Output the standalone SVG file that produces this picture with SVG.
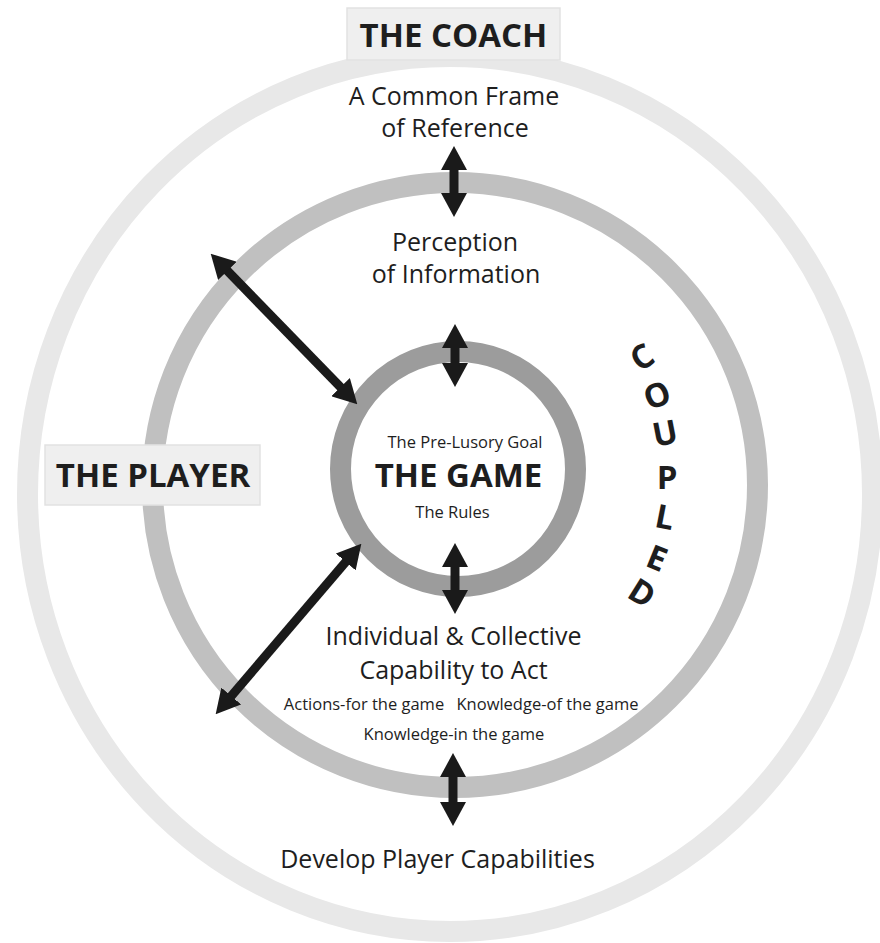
<svg xmlns="http://www.w3.org/2000/svg" width="880" height="943" viewBox="0 0 880 943">
  <style>
    .ring { fill: none; stroke-width: 21; }
    .coach-ring { stroke: #e8e8e8; }
    .player-ring { stroke: #c0c0c0; }
    .game-ring { stroke: #9c9c9c; }
    .box { fill: #efefef; stroke: #e2e2e2; stroke-width: 1.5; }
    .txt { font-family: "Open Sans", "Liberation Sans", sans-serif; fill: #1e1e1e; text-anchor: middle; }
    .title { font-size: 33px; font-weight: 700; }
    .big { font-size: 25px; }
    .small { font-size: 16.5px; }
    .coupled { font-size: 33px; font-weight: 700; }
    .link { stroke: #1a1a1a; stroke-width: 9; fill: none; marker-start: url(#head); marker-end: url(#head); }
  </style>
  <defs>
    <marker id="head" markerUnits="userSpaceOnUse" viewBox="0 0 24 26" markerWidth="24" markerHeight="26" refX="1" refY="13" orient="auto-start-reverse">
      <path d="M0,0 L24,13 L0,26 z" fill="#1a1a1a"/>
    </marker>
  </defs>

  <rect width="880" height="943" fill="#ffffff"/>

  <!-- concentric rings: coach, player, game -->
  <g id="ring-coach">
    <ellipse class="ring coach-ring" cx="450" cy="494" rx="422.5" ry="437.5"/>
  </g>
  <g id="ring-player">
    <circle class="ring player-ring" cx="455" cy="485" r="302.5"/>
  </g>
  <g id="ring-game">
    <circle class="ring game-ring" cx="458" cy="469" r="117.5"/>
  </g>

  <!-- double-headed connectors -->
  <g id="connectors">
    <line class="link" x1="454" y1="169" x2="454" y2="194"/>
    <line class="link" x1="455" y1="347" x2="455" y2="364"/>
    <line class="link" x1="455" y1="566" x2="455" y2="591"/>
    <line class="link" x1="453" y1="776" x2="453" y2="803"/>
    <line class="link" x1="226.75" y1="270.2" x2="341.25" y2="387.8"/>
    <line class="link" x1="346.4" y1="561.2" x2="230.6" y2="696.8"/>
  </g>

  <g id="coach">
    <rect class="box" x="347" y="8" width="213" height="52"/>
    <text class="txt title" x="453.5" y="47">THE COACH</text>
  </g>

  <g id="frame-of-reference">
    <text class="txt big" x="454" y="105">A Common Frame</text>
    <text class="txt big" x="455" y="137">of Reference</text>
  </g>

  <g id="perception">
    <text class="txt big" x="455" y="251">Perception</text>
    <text class="txt big" x="456" y="283">of Information</text>
  </g>

  <g id="player">
    <rect class="box" x="45" y="445" width="215" height="60"/>
    <text class="txt title" x="153" y="487">THE PLAYER</text>
  </g>

  <g id="game">
    <text class="txt small" x="465" y="448">The Pre-Lusory Goal</text>
    <text class="txt title" x="458.5" y="487">THE GAME</text>
    <text class="txt small" x="452.5" y="518">The Rules</text>
  </g>

  <g id="coupled">
    <text class="txt coupled" transform="translate(642 357) rotate(-32)" y="11.8">C</text>
    <text class="txt coupled" transform="translate(657 395) rotate(-21)" y="11.8">O</text>
    <text class="txt coupled" transform="translate(665 433) rotate(-11)" y="11.8">U</text>
    <text class="txt coupled" transform="translate(667 477)" y="11.8">P</text>
    <text class="txt coupled" transform="translate(665 517) rotate(11)" y="11.8">L</text>
    <text class="txt coupled" transform="translate(657 558) rotate(22)" y="11.8">E</text>
    <text class="txt coupled" transform="translate(642 593) rotate(32)" y="11.8">D</text>
  </g>

  <g id="capability">
    <text class="txt big" x="453.5" y="645">Individual &amp; Collective</text>
    <text class="txt big" x="453.5" y="679">Capability to Act</text>
    <text class="txt small" x="364" y="710">Actions-for the game</text>
    <text class="txt small" x="547.5" y="710">Knowledge-of the game</text>
    <text class="txt small" x="454" y="740">Knowledge-in the game</text>
  </g>

  <g id="develop">
    <text class="txt big" x="437.5" y="868">Develop Player Capabilities</text>
  </g>
</svg>
